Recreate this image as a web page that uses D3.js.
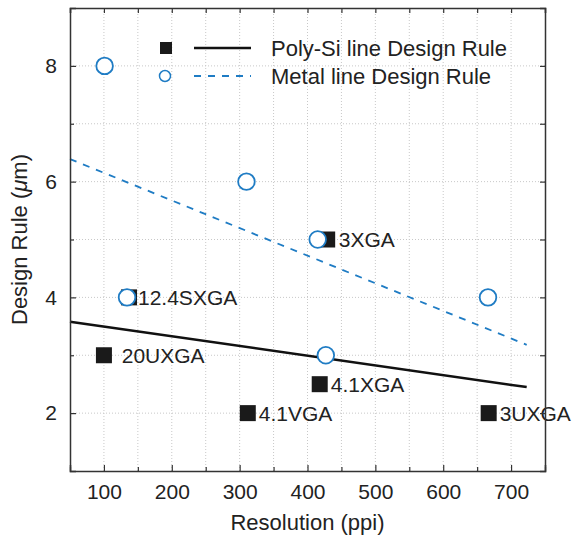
<!DOCTYPE html>
<html>
<head>
<meta charset="utf-8">
<script src="https://cdn.jsdelivr.net/npm/d3@7"></script>
<style>
  body { margin: 0; background: #fff; }
  text { font-family: "Liberation Sans", Arial, sans-serif; fill: #222; }
</style>
</head>
<body>
<div id="chart"></div>
<script>
// Poly-Si line design rule (filled squares)
const polyX = [100, 137, 312, 418, 429, 667];
const polyY = [3, 4, 2, 2.5, 5, 2];
// Metal line design rule (open circles)
const metalX = [101, 134, 310, 415, 427, 666];
const metalY = [8, 4, 6, 5, 3, 4];

// trend lines, endpoints
const polyFitX = [50, 723];
const polyFitY = [3.58, 2.45];
const metalFitX = [50, 723];
const metalFitY = [6.39, 3.18];

// point labels (anchor in data units)
const labelText = ['3XGA', '12.4SXGA', '20UXGA', '4.1VGA', '4.1XGA', '3UXGA'];
const labelX = [430, 134, 110, 312, 418, 667];
const labelY = [5, 4, 3, 2, 2.5, 2];

const xTicks = [100, 200, 300, 400, 500, 600, 700];
const yTicks = [2, 4, 6, 8];

const width = 577;
const height = 538;
const margin = { top: 8, right: 32, bottom: 67, left: 70 };

const svg = d3.select('#chart')
  .append('svg')
  .attr('width', width)
  .attr('height', height);

const x = d3.scaleLinear()
  .domain([50, 750])
  .range([margin.left, width - margin.right]);

const y = d3.scaleLinear()
  .domain([1, 9])
  .range([height - margin.bottom, margin.top]);

const blue = '#1f7cc4';
const axisColor = '#333';

// dotted grid
svg.append('g')
  .selectAll('line')
  .data(d3.range(100, 750, 50))
  .join('line')
    .attr('x1', d => x(d)).attr('x2', d => x(d))
    .attr('y1', y(1)).attr('y2', y(9))
    .attr('stroke', '#c8c8c8')
    .attr('stroke-dasharray', '1,2');

svg.append('g')
  .selectAll('line')
  .data(d3.range(2, 9, 1))
  .join('line')
    .attr('y1', d => y(d)).attr('y2', d => y(d))
    .attr('x1', x(50)).attr('x2', x(750))
    .attr('stroke', '#c8c8c8')
    .attr('stroke-dasharray', '1,2');

// trend lines
const line = d3.line().x(d => x(d[0])).y(d => y(d[1]));

svg.append('path')
  .datum(d3.zip(polyFitX, polyFitY))
  .attr('d', line)
  .attr('fill', 'none')
  .attr('stroke', '#111')
  .attr('stroke-width', 2.5);

svg.append('path')
  .datum(d3.zip(metalFitX, metalFitY))
  .attr('d', line)
  .attr('fill', 'none')
  .attr('stroke', blue)
  .attr('stroke-width', 1.8)
  .attr('stroke-dasharray', '7,7');

// markers
const sq = 16;
svg.append('g')
  .selectAll('rect')
  .data(d3.zip(polyX, polyY))
  .join('rect')
    .attr('x', d => x(d[0]) - sq / 2)
    .attr('y', d => y(d[1]) - sq / 2)
    .attr('width', sq)
    .attr('height', sq)
    .attr('fill', '#1a1a1a');

svg.append('g')
  .selectAll('circle')
  .data(d3.zip(metalX, metalY))
  .join('circle')
    .attr('cx', d => x(d[0]))
    .attr('cy', d => y(d[1]))
    .attr('r', 8.3)
    .attr('fill', '#fff')
    .attr('stroke', blue)
    .attr('stroke-width', 1.8);

// point labels
svg.append('g')
  .selectAll('text')
  .data(d3.zip(labelText, labelX, labelY))
  .join('text')
    .attr('x', d => x(d[1]) + 11)
    .attr('y', d => y(d[2]))
    .attr('dy', '0.36em')
    .attr('font-size', '21px')
    .text(d => d[0]);

// axes, ticks inward and mirrored
function styleAxis(g) {
  g.select('.domain').attr('stroke', axisColor).attr('stroke-width', 1.5);
  g.selectAll('.tick line').attr('stroke', axisColor).attr('stroke-width', 1.2);
  g.selectAll('.tick text')
    .attr('font-size', '21px')
    .attr('font-family', '"Liberation Sans", Arial, sans-serif')
    .attr('fill', '#222');
}

const xMinor = d3.range(50, 751, 50).filter(d => d % 100 !== 0);
const yMinor = [3, 5, 7];

svg.append('g')
  .attr('transform', `translate(0,${y(1)})`)
  .call(d3.axisBottom(x).tickValues(xTicks).tickSize(-6).tickPadding(13))
  .call(styleAxis);
svg.append('g')
  .attr('transform', `translate(0,${y(1)})`)
  .call(d3.axisBottom(x).tickValues(xMinor).tickSize(-4).tickFormat(''))
  .call(styleAxis)
  .call(g => g.select('.domain').remove());

svg.append('g')
  .attr('transform', `translate(0,${y(9)})`)
  .call(d3.axisTop(x).tickValues(xTicks.concat(xMinor)).tickSize(-5).tickFormat(''))
  .call(styleAxis);

svg.append('g')
  .attr('transform', `translate(${x(50)},0)`)
  .call(d3.axisLeft(y).tickValues(yTicks).tickSize(-6).tickPadding(13))
  .call(styleAxis);
svg.append('g')
  .attr('transform', `translate(${x(50)},0)`)
  .call(d3.axisLeft(y).tickValues(yMinor).tickSize(-4).tickFormat(''))
  .call(styleAxis)
  .call(g => g.select('.domain').remove());

svg.append('g')
  .attr('transform', `translate(${x(750)},0)`)
  .call(d3.axisRight(y).tickValues(yTicks.concat(yMinor)).tickSize(-5).tickFormat(''))
  .call(styleAxis);

// legend
const lg = svg.append('g');
lg.append('rect')
  .attr('x', 160).attr('y', 42).attr('width', 12).attr('height', 12)
  .attr('fill', '#1a1a1a');
lg.append('line')
  .attr('x1', 194).attr('x2', 251).attr('y1', 48).attr('y2', 48)
  .attr('stroke', '#111').attr('stroke-width', 2.5);
lg.append('text')
  .attr('x', 271).attr('y', 48).attr('dy', '0.36em')
  .attr('font-size', '22px')
  .text('Poly-Si line Design Rule');

lg.append('circle')
  .attr('cx', 165).attr('cy', 76).attr('r', 5.5)
  .attr('fill', '#fff').attr('stroke', blue).attr('stroke-width', 1.5);
lg.append('line')
  .attr('x1', 194).attr('x2', 251).attr('y1', 76).attr('y2', 76)
  .attr('stroke', blue).attr('stroke-width', 1.8)
  .attr('stroke-dasharray', '7,7');
lg.append('text')
  .attr('x', 271).attr('y', 76).attr('dy', '0.36em')
  .attr('font-size', '22px')
  .text('Metal line Design Rule');

// axis titles
svg.append('text')
  .attr('text-anchor', 'middle')
  .attr('x', (x(50) + x(750)) / 2)
  .attr('y', 530)
  .attr('font-size', '22px')
  .text('Resolution (ppi)');

const yt = svg.append('text')
  .attr('text-anchor', 'middle')
  .attr('transform', `translate(27,${(y(1) + y(9)) / 2}) rotate(-90)`)
  .attr('font-size', '22px');
yt.append('tspan').text('Design Rule (');
yt.append('tspan').attr('font-style', 'italic').text('\u03bc');
yt.append('tspan').text('m)');
</script>
</body>
</html>
